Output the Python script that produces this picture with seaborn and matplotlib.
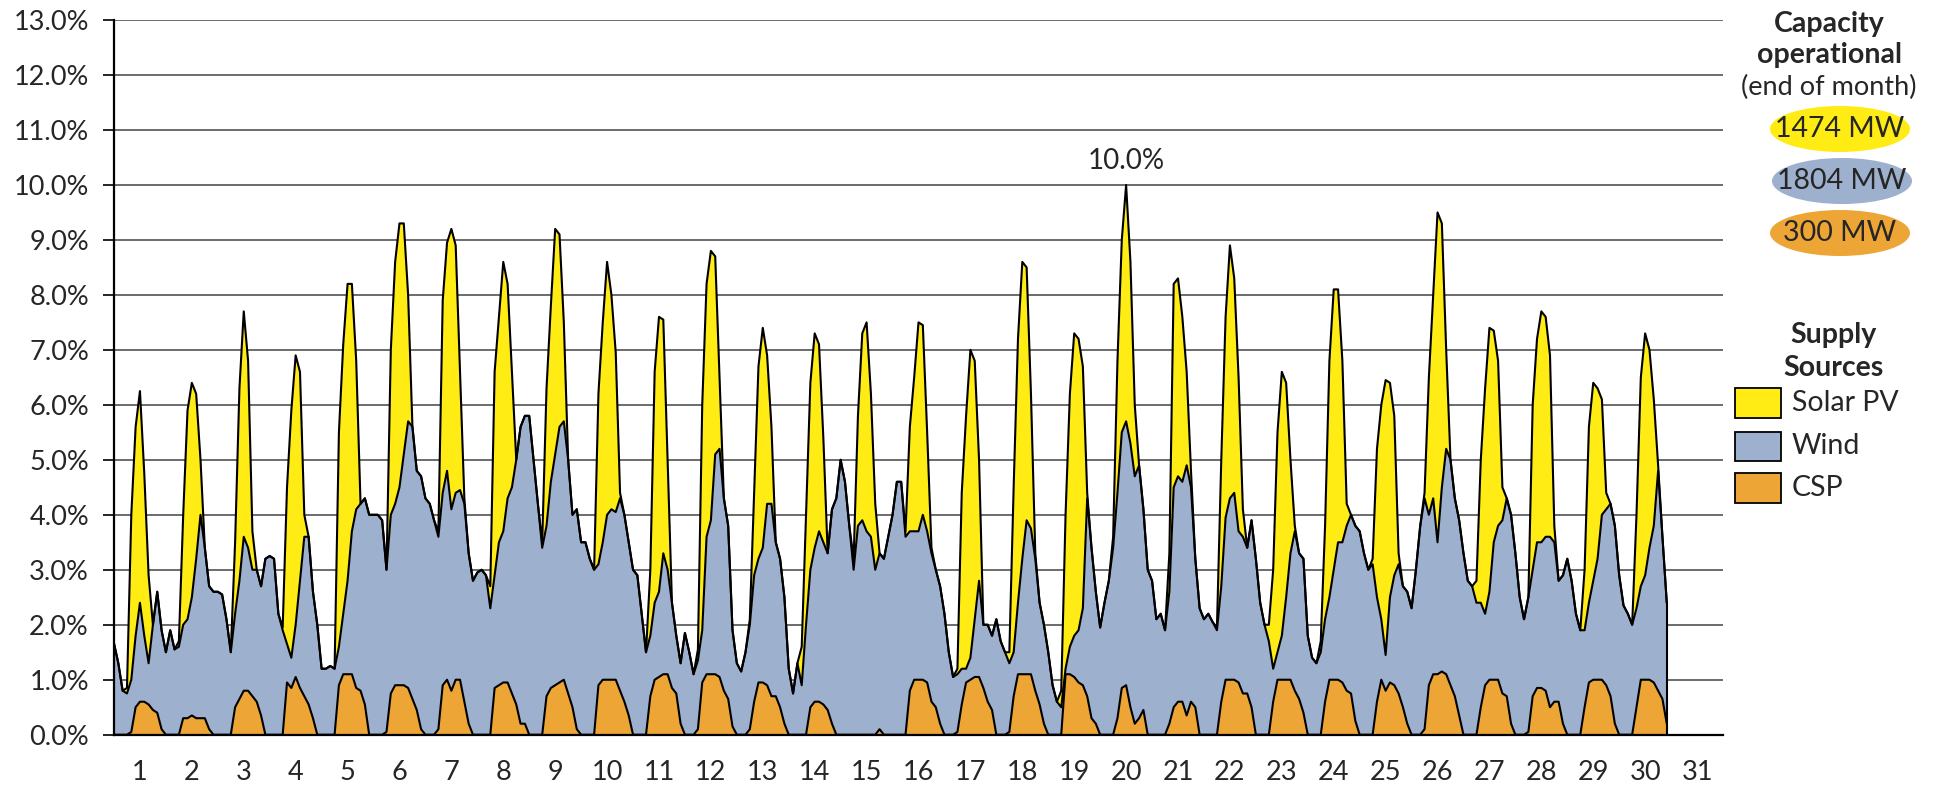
import numpy as np
import pandas as pd
import matplotlib
matplotlib.use("Agg")
import matplotlib.pyplot as plt
import seaborn as sns
from matplotlib.patches import Ellipse, Rectangle

sns.set_theme(style="white")
plt.rcParams['font.family'] = ['Lato', 'DejaVu Sans']

# readings every 2 hours (00h, 02h ... 22h) for each day of the month, % of demand
hours = list(range(0, 24, 2))
day_labels = [str(d) for d in range(1, 32)]

csp = [
    [0, 0, 0, 0, 0.05, 0.5, 0.6, 0.6, 0.55, 0.45, 0.4, 0.1],
    [0, 0, 0, 0, 0.3, 0.3, 0.35, 0.3, 0.3, 0.3, 0.1, 0],
    [0, 0, 0, 0, 0.5, 0.65, 0.8, 0.8, 0.7, 0.6, 0.35, 0],
    [0, 0, 0, 0, 0.95, 0.85, 1.05, 0.85, 0.7, 0.55, 0.3, 0],
    [0, 0, 0, 0, 0.9, 1.1, 1.1, 1.1, 0.85, 0.8, 0.55, 0],
    [0, 0, 0, 0.05, 0.75, 0.9, 0.9, 0.9, 0.85, 0.65, 0.45, 0.1],
    [0, 0, 0, 0.1, 0.9, 1.0, 0.8, 1.0, 1.0, 0.6, 0.2, 0],
    [0, 0, 0, 0, 0.85, 0.9, 0.95, 0.95, 0.75, 0.55, 0.2, 0.2],
    [0, 0, 0, 0, 0.7, 0.85, 0.9, 0.95, 1.0, 0.75, 0.5, 0.1],
    [0, 0, 0, 0, 0.9, 1.0, 1.0, 1.0, 1.0, 0.8, 0.6, 0.35],
    [0, 0, 0, 0, 0.7, 1.0, 1.05, 1.1, 1.1, 0.85, 0.75, 0.2],
    [0, 0, 0, 0.1, 0.95, 1.1, 1.1, 1.1, 1.05, 0.8, 0.65, 0.15],
    [0, 0, 0, 0.1, 0.6, 0.95, 0.95, 0.9, 0.7, 0.7, 0.5, 0.2],
    [0, 0, 0, 0, 0, 0.5, 0.6, 0.6, 0.55, 0.45, 0.2, 0],
    [0, 0, 0, 0, 0, 0, 0, 0, 0, 0.1, 0, 0],
    [0, 0, 0, 0, 0.8, 1.0, 1.0, 1.0, 0.95, 0.6, 0.5, 0.2],
    [0, 0, 0, 0.05, 0.55, 0.95, 1.0, 1.05, 1.05, 0.85, 0.6, 0.45],
    [0, 0, 0, 0.05, 0.7, 1.1, 1.1, 1.1, 1.1, 0.8, 0.55, 0.2],
    [0, 0, 0, 0, 1.1, 1.1, 1.05, 0.95, 0.9, 0.7, 0.3, 0.2],
    [0, 0, 0, 0, 0.3, 0.85, 0.9, 0.5, 0.2, 0.3, 0.45, 0],
    [0, 0, 0, 0, 0.2, 0.5, 0.6, 0.6, 0.35, 0.6, 0.5, 0],
    [0, 0, 0, 0, 0.6, 1.0, 1.0, 1.0, 0.95, 0.75, 0.75, 0.5],
    [0, 0, 0, 0, 0.6, 1.0, 1.0, 1.0, 1.0, 0.8, 0.65, 0.4],
    [0, 0, 0, 0, 0.6, 1.0, 1.0, 1.0, 0.95, 0.8, 0.75, 0.25],
    [0, 0, 0, 0, 0.6, 1.0, 0.8, 0.95, 0.9, 0.75, 0.5, 0.2],
    [0, 0, 0, 0.1, 0.9, 1.1, 1.1, 1.15, 1.1, 0.9, 0.7, 0.35],
    [0, 0, 0, 0, 0.5, 0.9, 1.0, 1.0, 1.0, 0.75, 0.7, 0.2],
    [0, 0, 0, 0.05, 0.7, 0.85, 0.85, 0.8, 0.5, 0.6, 0.6, 0.2],
    [0, 0, 0, 0, 0.5, 0.95, 1.0, 1.0, 1.0, 0.9, 0.7, 0.2],
    [0, 0, 0, 0, 0.5, 1.0, 1.0, 1.0, 0.95, 0.8, 0.65, 0.2],
]

# top edge of the wind band (CSP + wind)
wind_top = [
    [1.66, 1.3, 0.8, 0.75, 1.0, 1.8, 2.4, 1.8, 1.3, 2.0, 2.6, 1.9],
    [1.5, 1.9, 1.55, 1.6, 2.0, 2.1, 2.5, 3.2, 4.0, 3.4, 2.7, 2.6],
    [2.6, 2.55, 2.1, 1.5, 2.2, 2.8, 3.6, 3.4, 3.0, 3.0, 2.7, 3.2],
    [3.25, 3.2, 2.2, 1.9, 1.65, 1.4, 2.0, 2.8, 3.6, 3.6, 2.6, 2.0],
    [1.2, 1.2, 1.25, 1.2, 1.6, 2.2, 2.8, 3.7, 4.1, 4.2, 4.3, 4.0],
    [4.0, 4.0, 3.9, 3.0, 4.0, 4.2, 4.5, 5.1, 5.7, 5.6, 4.8, 4.7],
    [4.3, 4.2, 3.9, 3.6, 4.4, 4.8, 4.1, 4.4, 4.45, 4.2, 3.3, 2.8],
    [2.95, 3.0, 2.9, 2.3, 2.9, 3.5, 3.7, 4.3, 4.5, 5.0, 5.6, 5.8],
    [5.8, 5.0, 4.2, 3.4, 3.8, 4.6, 5.1, 5.6, 5.7, 5.0, 4.0, 4.1],
    [3.5, 3.5, 3.2, 3.0, 3.1, 3.5, 4.0, 4.1, 4.05, 4.3, 4.0, 3.5],
    [3.0, 2.9, 2.2, 1.5, 1.8, 2.4, 2.6, 3.3, 3.0, 2.4, 1.8, 1.3],
    [1.85, 1.5, 1.1, 1.35, 1.9, 3.6, 3.9, 5.1, 5.2, 4.3, 3.8, 1.9],
    [1.3, 1.15, 1.5, 2.0, 2.9, 3.2, 3.4, 4.2, 4.2, 3.5, 3.2, 2.5],
    [1.2, 0.75, 1.3, 0.9, 2.0, 3.0, 3.4, 3.7, 3.5, 3.3, 4.1, 4.3],
    [5.0, 4.6, 3.8, 3.0, 3.8, 3.9, 3.7, 3.6, 3.0, 3.3, 3.2, 3.6],
    [4.0, 4.6, 4.6, 3.6, 3.7, 3.7, 3.7, 4.0, 3.7, 3.3, 3.0, 2.7],
    [2.2, 1.5, 1.05, 1.1, 1.2, 1.2, 1.4, 2.1, 2.8, 2.0, 2.0, 1.8],
    [2.1, 1.7, 1.5, 1.3, 1.5, 2.4, 3.2, 3.9, 3.75, 3.2, 2.4, 2.0],
    [1.5, 0.9, 0.6, 0.5, 1.2, 1.6, 1.8, 1.9, 2.3, 4.3, 3.4, 2.6],
    [1.95, 2.4, 2.8, 3.4, 4.4, 5.5, 5.7, 5.3, 4.7, 4.9, 4.1, 3.0],
    [2.8, 2.1, 2.2, 1.9, 2.6, 4.5, 4.7, 4.6, 4.9, 4.5, 3.2, 2.3],
    [2.1, 2.2, 2.05, 1.9, 2.7, 3.95, 4.3, 4.4, 3.7, 3.6, 3.4, 3.9],
    [3.2, 2.4, 2.0, 1.7, 1.2, 1.5, 1.8, 2.5, 3.3, 3.7, 3.3, 3.2],
    [1.8, 1.4, 1.3, 1.5, 2.1, 2.5, 3.0, 3.5, 3.5, 3.8, 4.0, 3.8],
    [3.7, 3.3, 3.0, 3.1, 2.5, 2.1, 1.45, 2.5, 2.9, 3.1, 2.7, 2.6],
    [2.3, 3.0, 3.8, 4.3, 4.0, 4.3, 3.5, 4.5, 5.2, 5.0, 4.3, 3.9],
    [3.3, 2.8, 2.7, 2.4, 2.4, 2.2, 2.6, 3.5, 3.8, 3.9, 4.3, 4.0],
    [3.3, 2.5, 2.1, 2.5, 3.0, 3.5, 3.5, 3.6, 3.6, 3.5, 2.8, 2.9],
    [3.2, 2.8, 2.2, 1.9, 1.9, 2.4, 2.8, 3.2, 4.0, 4.1, 4.2, 3.8],
    [2.9, 2.35, 2.2, 2.0, 2.3, 2.7, 2.9, 3.4, 3.8, 4.8, 3.6, 2.4],
]

solar = [
    [0, 0, 0, 0.1, 3.0, 3.8, 3.85, 2.95, 1.6, 0, 0, 0],
    [0, 0, 0, 0.1, 2.0, 3.8, 3.9, 3.0, 1.0, 0, 0, 0],
    [0, 0, 0, 0, 1.3, 3.5, 4.1, 3.4, 0.7, 0, 0, 0],
    [0, 0, 0, 0.05, 2.85, 4.5, 4.9, 3.8, 0.4, 0, 0, 0],
    [0, 0, 0, 0, 3.9, 4.9, 5.4, 4.5, 2.7, 0, 0, 0],
    [0, 0, 0, 0, 3.0, 4.4, 4.8, 4.2, 2.3, 0, 0, 0],
    [0, 0, 0, 0.1, 3.5, 4.15, 5.1, 4.5, 2.15, 0.1, 0, 0],
    [0, 0, 0, 0.4, 3.7, 4.1, 4.9, 3.9, 2.1, 0, 0, 0],
    [0, 0, 0, 0.1, 2.5, 3.2, 4.1, 3.5, 1.8, 0, 0, 0],
    [0, 0, 0, 0, 3.1, 4.0, 4.6, 3.9, 2.9, 0.1, 0, 0],
    [0, 0, 0, 0, 1.2, 4.2, 5.0, 4.25, 2.0, 0, 0, 0],
    [0, 0, 0, 0.2, 4.1, 4.6, 4.9, 3.6, 1.3, 0, 0, 0],
    [0, 0, 0, 0.1, 1.5, 3.5, 4.0, 2.7, 1.4, 0, 0, 0],
    [0, 0, 0, 0.7, 2.0, 3.4, 3.9, 3.4, 1.9, 0, 0, 0],
    [0, 0, 0, 0.2, 2.0, 3.4, 3.8, 2.6, 1.2, 0, 0, 0],
    [0, 0, 0, 0.1, 1.9, 2.8, 3.8, 3.45, 1.8, 0.1, 0, 0],
    [0, 0, 0, 0.1, 3.2, 4.6, 5.6, 4.7, 2.2, 0, 0, 0],
    [0, 0, 0, 0.2, 3.0, 4.8, 5.4, 4.6, 2.45, 0.1, 0, 0],
    [0, 0, 0, 0.3, 2.8, 4.6, 5.5, 5.3, 4.4, 0.1, 0, 0],
    [0, 0, 0, 0.2, 2.4, 3.5, 4.3, 3.3, 1.3, 0, 0, 0],
    [0, 0, 0, 0, 0.7, 3.7, 3.6, 3.0, 1.7, 0.3, 0, 0],
    [0, 0, 0, 0.05, 2.3, 3.65, 4.6, 3.9, 2.8, 0.5, 0, 0],
    [0, 0, 0, 0.3, 1.8, 4.0, 4.8, 3.9, 1.7, 0.1, 0, 0],
    [0, 0, 0, 0.2, 1.7, 4.3, 5.1, 4.6, 3.3, 0.4, 0, 0],
    [0, 0, 0, 0.1, 2.7, 3.9, 5.0, 3.9, 2.9, 0.2, 0, 0],
    [0, 0, 0, 0.1, 2.5, 3.7, 6.0, 4.8, 1.8, 0, 0, 0],
    [0, 0, 0, 0.4, 2.6, 4.1, 4.8, 3.85, 3.0, 0.6, 0, 0],
    [0, 0, 0, 0, 3.0, 3.7, 4.2, 4.0, 3.3, 0.3, 0, 0],
    [0, 0, 0, 0, 1.1, 3.2, 3.6, 3.1, 2.1, 0.3, 0, 0],
    [0, 0, 0, 0, 1.7, 3.8, 4.4, 3.6, 2.3, 0.1, 0, 0],
]

capacity = ["1474 MW", "1804 MW", "300 MW"]
series_names = ["Solar PV", "Wind", "CSP"]
colors = {"Solar PV": "#FFEC14", "Wind": "#9DB0CD", "CSP": "#EDA535"}

# build the stacked levels
t = np.array([d + h / 24 for d in range(len(csp)) for h in hours])
csp_lvl = np.array(csp, dtype=float).ravel()
wind_lvl = np.maximum(np.array(wind_top, dtype=float).ravel(), csp_lvl)
total_lvl = wind_lvl + np.array(solar, dtype=float).ravel()

fig = plt.figure(figsize=(19.37, 7.88), dpi=100)
ax = fig.add_axes([114 / 1937, 1 - 734.7 / 788, (1723 - 114) / 1937, (734.7 - 20) / 788])

ax.fill_between(t, 0, csp_lvl, color=colors["CSP"], lw=0, zorder=2)
ax.fill_between(t, csp_lvl, wind_lvl, color=colors["Wind"], lw=0, zorder=2)
ax.fill_between(t, wind_lvl, total_lvl, color=colors["Solar PV"], lw=0, zorder=2)

lines = pd.DataFrame({
    "t": np.concatenate([t, t, t]),
    "level": np.concatenate([csp_lvl, wind_lvl, total_lvl]),
    "series": ["CSP"] * len(t) + ["Wind"] * len(t) + ["Solar PV"] * len(t),
})
sns.lineplot(data=lines, x="t", y="level", hue="series", palette=["black"] * 3,
             estimator=None, legend=False, linewidth=1.5, ax=ax, zorder=3)
ax.plot([t[-1], t[-1]], [0, total_lvl[-1]], color="black", lw=1.5, zorder=3)

# highest point label
i = int(np.argmax(total_lvl))
ax.text(t[i], total_lvl[i] + 0.2, f"{total_lvl[i]:.1f}%", ha="center", va="bottom",
        fontsize=20, zorder=4)

ax.set_xlim(0, 31)
ax.set_ylim(0, 13)
ax.set_yticks(np.arange(0, 14, 1))
ax.set_yticklabels([f"{v:.1f}%" for v in np.arange(0, 14, 1)])
ax.set_xticks(np.arange(31) + 0.5)
ax.set_xticklabels(day_labels)
ax.set_xlabel("")
ax.set_ylabel("")
ax.set_axisbelow(True)
ax.yaxis.grid(True, color="#444444", linewidth=1.1)
ax.xaxis.grid(False)
ax.tick_params(axis="y", direction="out", length=8, width=1.2, color="black",
               pad=10, labelsize=19.5, left=True)
ax.tick_params(axis="x", length=0, pad=18, labelsize=19.5)
for s in ["top", "right"]:
    ax.spines[s].set_visible(False)
for s in ["left", "bottom"]:
    ax.spines[s].set_color("black")
    ax.spines[s].set_linewidth(1.6)
    ax.spines[s].set_zorder(5)


def fx(x):
    return x / 1937


def fy(y):
    return 1 - y / 788


# capacity legend
fig.text(fx(1829), fy(24), "Capacity", ha="center", va="center", fontsize=20.5, fontweight="bold")
fig.text(fx(1829), fy(55), "operational", ha="center", va="center", fontsize=20.5, fontweight="bold")
fig.text(fx(1829), fy(87), "(end of month)", ha="center", va="center", fontsize=19.5)
for (cx, cy), label, name in zip([(1840, 129), (1842, 181), (1840, 233)], capacity, series_names):
    fig.add_artist(Ellipse((fx(cx), fy(cy)), 140 / 1937, 46 / 788, transform=fig.transFigure,
                           facecolor=colors[name], edgecolor="none"))
    fig.text(fx(cx), fy(cy), label, ha="center", va="center", fontsize=20.5)

# supply sources legend
fig.text(fx(1833), fy(335), "Supply", ha="center", va="center", fontsize=20.5, fontweight="bold")
fig.text(fx(1833), fy(368), "Sources", ha="center", va="center", fontsize=20.5, fontweight="bold")
for (top, bot), name in zip([(388, 418), (432, 461), (473, 503)], series_names):
    fig.add_artist(Rectangle((fx(1735), fy(bot)), 46 / 1937, (bot - top) / 788,
                             transform=fig.transFigure, facecolor=colors[name],
                             edgecolor="black", linewidth=1.3))
    fig.text(fx(1792), fy((top + bot) / 2), name, ha="left", va="center", fontsize=20.5)

fig.savefig("out.png", dpi=100)
